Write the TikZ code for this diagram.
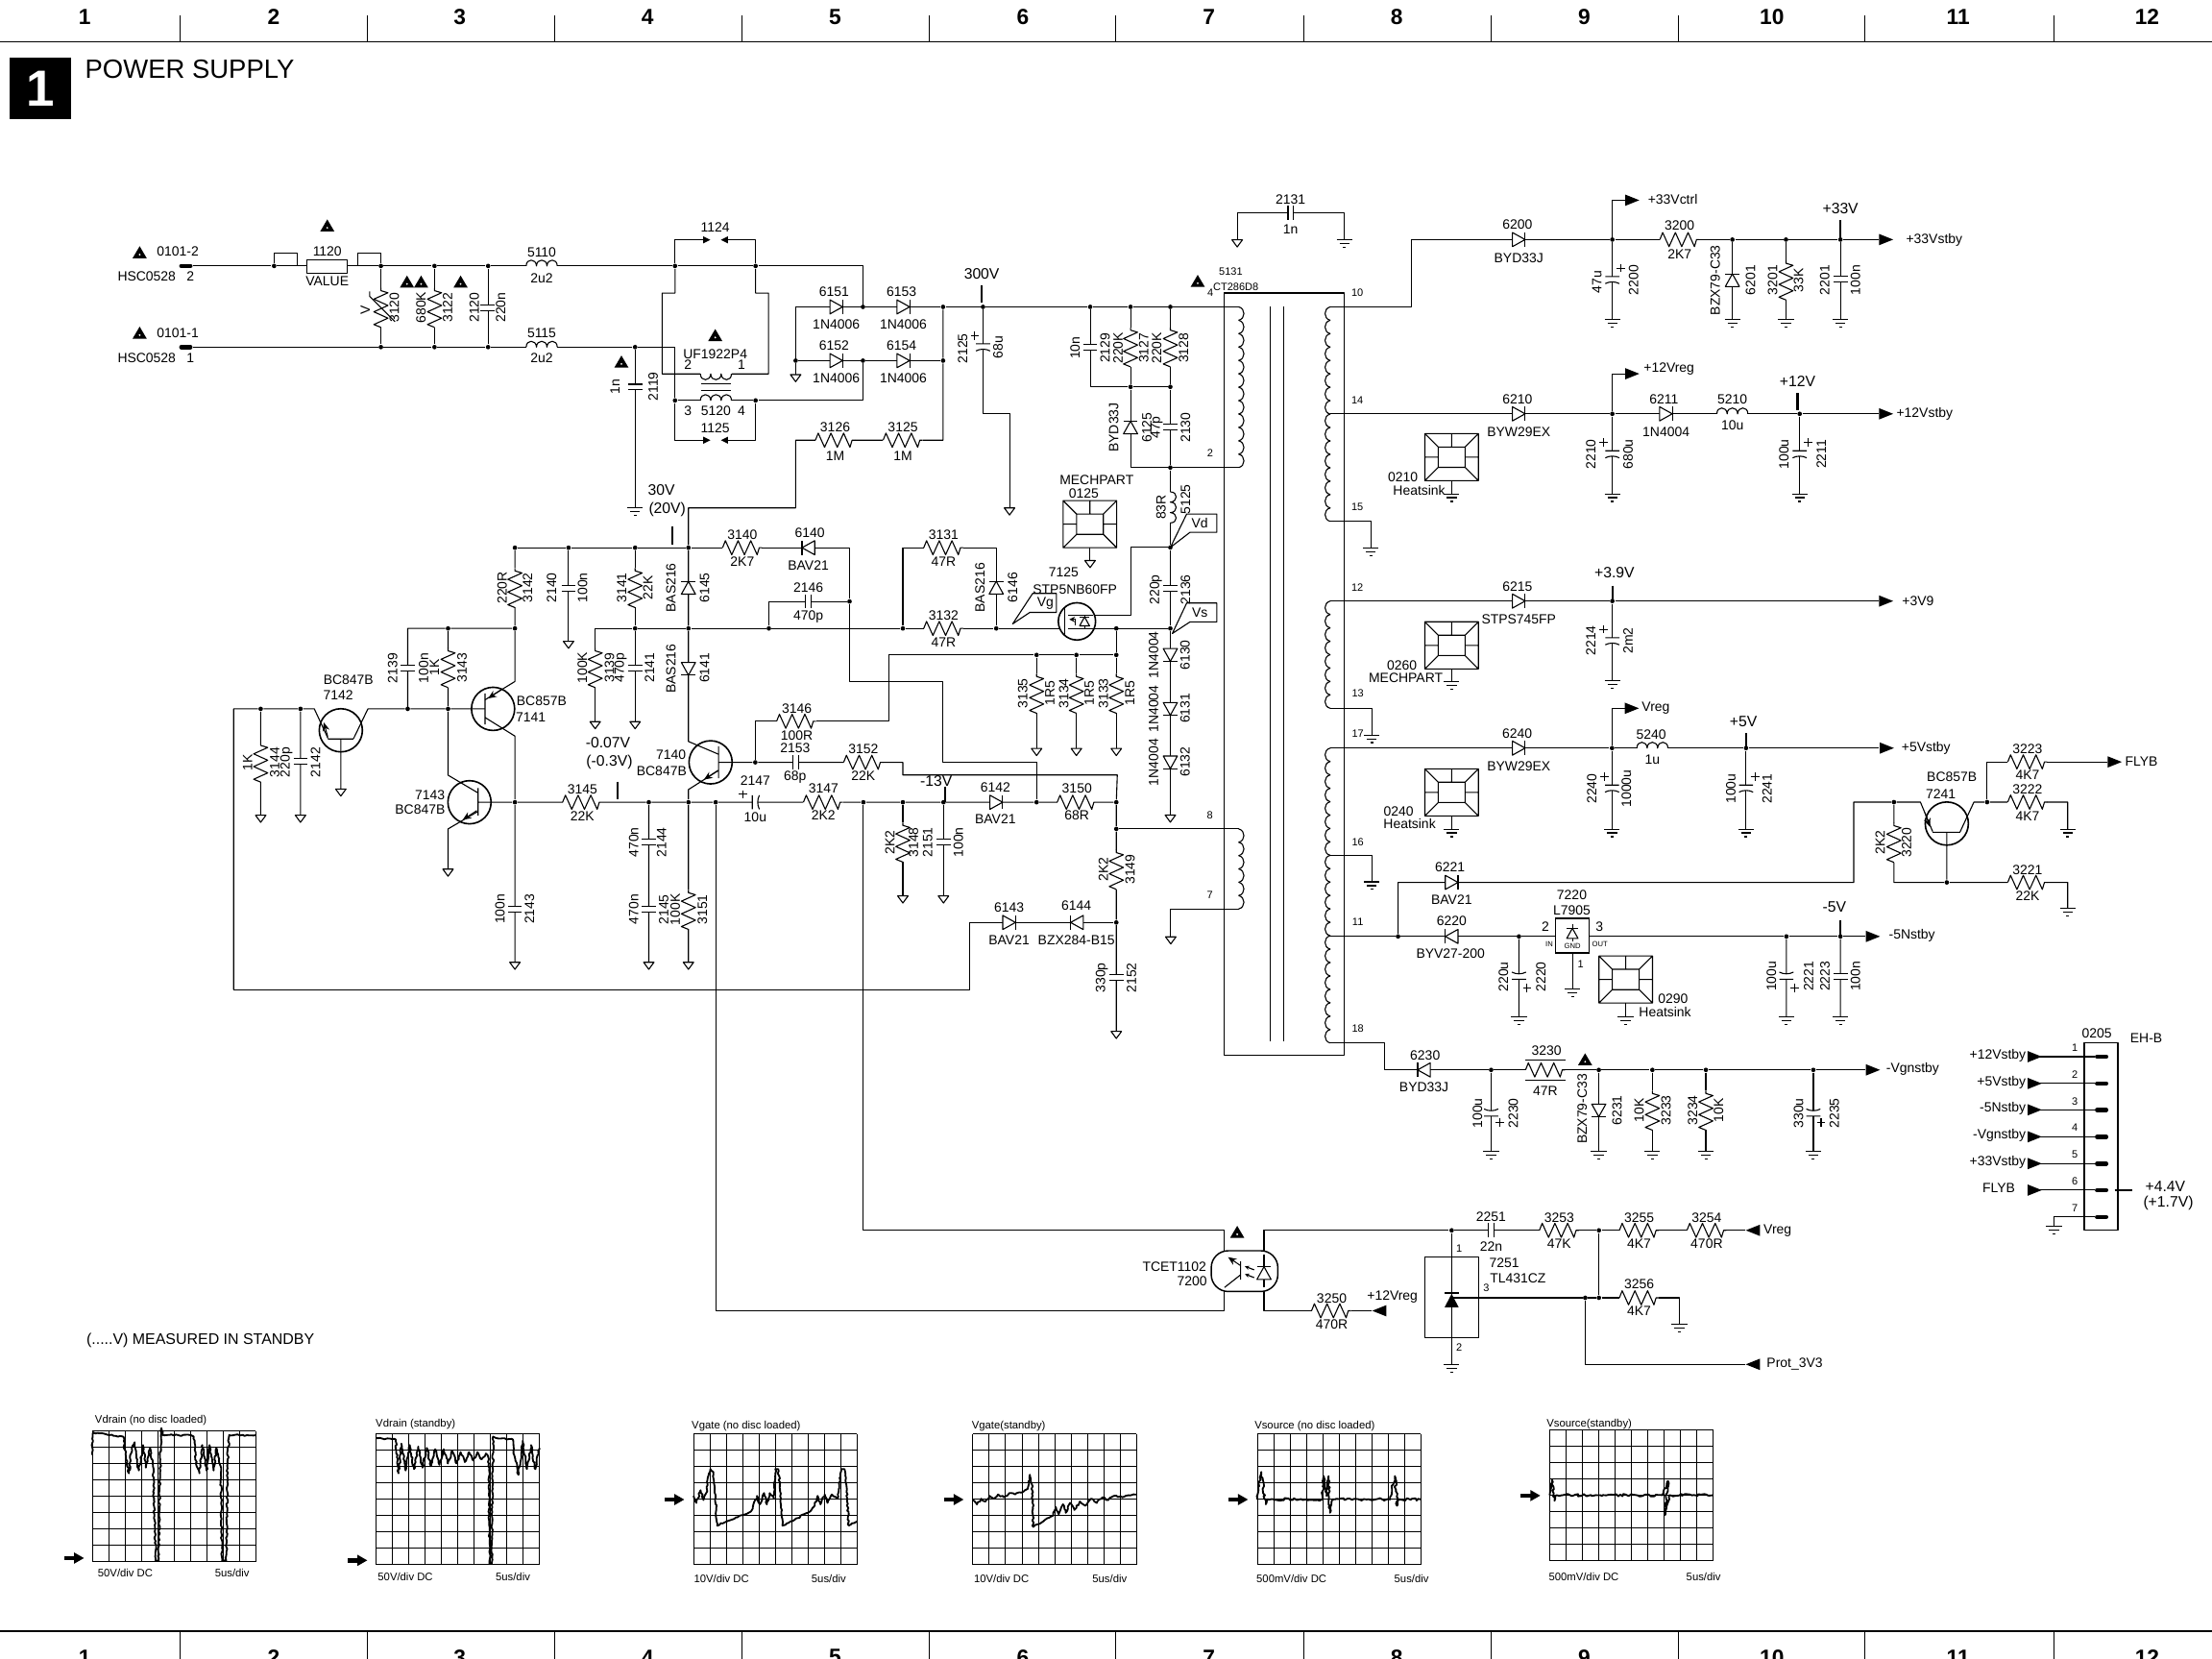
\documentclass[tikz,border=0pt]{standalone}
\usepackage{fontspec}
\setmainfont{Liberation Sans}
\usetikzlibrary{arrows.meta,calc,decorations.pathmorphing}
\tikzset{
	jd/.style={circle,fill=black,inner sep=0pt,minimum size=3.2pt},
	lbl/.style={inner sep=0pt},
	vlbl/.style={inner sep=0pt,rotate=90},
	big/.style={inner sep=0pt,font=\fontsize{10.7}{12}\selectfont},
	tinyl/.style={inner sep=0pt,font=\fontsize{7.5}{9}\selectfont},
	outl/.style={inner sep=0pt,anchor=west},
	scl/.style={inner sep=0pt,anchor=west,font=\fontsize{7.7}{9}\selectfont},
	hdr/.style={inner sep=0pt,font=\fontsize{15.5}{17}\selectfont\bfseries},
	tick/.style={line width=1.4pt},
	stub/.style={line width=3pt,line cap=round},
	qcirc/.style={circle,draw,line width=1.1pt,inner sep=0pt,minimum size=30.6pt},
	emit/.style={-{Stealth[length=6pt,width=5pt]},line width=.7pt},
	trace/.style={line width=1.25pt,decorate,decoration={random steps,segment length=1.6pt,amplitude=.6pt}},
	rez/.pic={\fill[white] (-14,-5.5) rectangle (14,5.5);
		\draw (-14,0)--(-12,-5)--(-7.5,5)--(-3,-5)--(1.5,5)--(6,-5)--(10.5,5)--(12,0)--(14,0);},
	capa/.pic={\fill[white] (-2,-5) rectangle (2,5); \draw (-2,-5)--(-2,5) (2,-5)--(2,5);},
	pcapa/.pic={\fill[white] (-2,-5) rectangle (2,5);
		\draw (-2,-5)--(-2,5) (3,-5) .. controls (1.4,-2) and (1.4,2) .. (3,5);},
	dioda/.pic={\draw[fill=white] (-4.5,-5)--(4.5,0)--(-4.5,5)--cycle; \draw (4.5,-5)--(4.5,5);},
	coilb/.pic={\fill[white] (-11,-6) rectangle (11,.5);
		\draw (-11,0) .. controls (-11,-5.5) and (-4,-5.5) .. (-3.7,0)
		.. controls (-3.7,-5.5) and (3.7,-5.5) .. (3.7,0)
		.. controls (4,-5.5) and (11,-5.5) .. (11,0);},
	gndb/.pic={\draw (-5.5,0)--(5.5,0) (-3.5,2.7)--(3.5,2.7) (-1,5.4)--(1,5.4);},
	trib/.pic={\draw[fill=white] (-3.7,0)--(3.7,0)--(0,5)--cycle;},
	headb/.pic={\fill (-5,-4)--(5,0)--(-5,4)--cycle;},
	heads/.pic={\fill (-2.5,-2.5)--(2.5,0)--(-2.5,2.5)--cycle;},
	warnb/.pic={\fill (0,-4.5)--(5,4)--(-5,4)--cycle; \fill[white] (0,1.5) circle[radius=.7pt];},
	plusb/.pic={\draw (-3,0)--(3,0) (0,-3)--(0,3);},
	sarr/.pic={\fill (-7,-1.5) rectangle (1,1.5); \fill (0,-4)--(7,0)--(0,4)--cycle;},
	hsink/.pic={\draw (-19,-16.7) rectangle (19,16.7) (-9.5,-7.2) rectangle (9.5,7.2)
		(-19,-16.7)--(-9.5,-7.2) (19,-16.7)--(9.5,-7.2) (-19,16.7)--(-9.5,7.2) (19,16.7)--(9.5,7.2)
		(0,-16.7)--(0,-7.2) (-19,0)--(-9.5,0) (19,0)--(9.5,0);},
}
\newcommand\place[3][]{\foreach \x/\y in {#3} {\pic[#1] at (\x,\y) {#2};}}
\newcommand\windr[4]{\foreach \n in {1,...,#3} \draw ({#1},{#2+(\n-1)*#4}) .. controls ({#1+5},{#2+(\n-1)*#4+1}) and ({#1+5},{#2+\n*#4-1}) .. ({#1},{#2+\n*#4});}
\newcommand\windl[4]{\foreach \n in {1,...,#3} \draw ({#1},{#2+(\n-1)*#4}) .. controls ({#1-5},{#2+(\n-1)*#4+1}) and ({#1-5},{#2+\n*#4-1}) .. ({#1},{#2+\n*#4});}
\newcommand\scopegrid[2]{\foreach \i in {0,...,10} \draw[line width=.45pt] ({#1+\i*11.6},#2) -- ++(0,92.6);
	\foreach \i in {0,...,8} \draw[line width=.6pt] (#1,{#2+\i*11.575}) -- ++(116,0);}
\begin{document}
\begin{tikzpicture}[x=1pt,y=-1pt,font=\fontsize{9.5}{11}\selectfont,line join=round,line width=.75pt,>=stealth]
	\useasboundingbox (0,0) rectangle (1568,1175.8);
	% page frame
	\draw[line width=.9pt] (0,29.5)--(1568,29.5) (0,1156)--(1568,1156);
	\foreach \x in {127.6,260.6,393,526,659,791,924,1057,1190,1322,1456} \draw (\x,11)--(\x,29.5) (\x,1156)--(\x,1176);
	\foreach \x/\n in {60/1,194/2,326/3,459/4,592/5,725/6,857/7,990/8,1123/9,1256/10,1388/11,1522/12} {
		\node[hdr] (top\n) at (\x,12) {\n};
		\node[hdr] (bot\n) at (\x,1174.6) {\n};
	}
	\node[fill=black,text=white,minimum size=43.2pt,inner sep=0pt,font=\fontsize{36}{38}\selectfont\bfseries] (sheet) at (28.5,62.7) {1};
	\node[outl,font=\fontsize{18.7}{21}\selectfont] (title) at (60,49) {POWER SUPPLY};
	% junctions
	\foreach \n/\x/\y in {fa/194.3/188.5,fb/270/188.5,rb/308/188.5,cb/346/188.5,ta/478.5/188.5,tb/535.6/188.5,
		fc/270/246,rc/308/246,cc/346/246,tc/450.2/246,ld/478.5/283.8,le/535.6/283.8,
		br1/611.7/217.5,br2/668.5/217.5,vh/696.8/217.5,rj/772.8/217.5,rk/801.4/217.5,rl/829.6/217.5,
		br3/564/255.6,br4/611.7/255.6,br5/668.5/255.6,jk/801.4/274.2,jl/829.6/274.2,jm/829.6/331.4,vd/829.6/388,vs/829.6/445.4,
		a1/365/388.2,a2/403/388.2,a3/450.2/388.2,a4/488/388.2,
		b1/317.6/445.4,b2/365/445.4,b3/450.2/445.4,b4/488/445.4,b5/545/445.4,b6/640/445.4,b7/706.2/445.4,b8/791.3/445.4,
		c1/602.2/426.3,d1/184.8/502.4,d2/213/502.4,d3/289/502.4,d4/317.6/502.4,
		e1/734.8/464.2,e2/763/464.2,e3/791.3/464.2,f1/535.4/540.3,
		g1/365/568.6,g2/459.9/568.6,g3/488/568.6,g4/507.3/568.6,g5/612/568.6,g6/640/568.6,g7/668.8/568.6,g8/734.8/568.6,g9/791.3/568.6,
		h1/791.3/587.5,h2/791.3/653.8,
		o1/1142.9/169.8,o2/1228/169.8,o3/1266/169.8,o4/1304.6/169.8,p1/1142.9/293.3,p2/1275.7/293.3,
		q1/1142.9/426,u1/1142.7/530.2,u2/1237.7/530.2,w1/991/663.7,w2/1076.7/663.7,w3/1266.3/663.7,w4/1304.6/663.7,
		v1/1342.5/568.5,v2/1408.6/568.5,v3/1380/625.4,
		x1/1057/758.3,x2/1133.3/758.3,x3/1171.3/758.3,x4/1209.2/758.3,x5/1285.4/758.3,
		y1/1029/872,y2/1133.4/872,y3/1123.7/919.8,y4/1133.4/919.8}
		\node[jd] (\n) at (\x,\y) {};
	% wires
	\foreach \n/\x/\y in {cn2/137/188.5,cn1/137/246,hs1/772.7/397.3,pn1/1485/748.9,pn2/1485/767.9,pn3/1485/786.6,pn4/1485/805.7,pn5/1485/824.7,pn6/1485/843.5,pn7/1485/862.5}
		\coordinate (\n) at (\x,\y);
	\draw (cn2)--(fa)--(fb)--(rb)--(cb)--(ta)--(tb)--(611.7,188.5)--(br1);
	\draw (cn1)--(fc)--(rc)--(cc)--(tc)--(478.5,246)--(ld)--(le) (fb)--(fc) (rb)--(rc) (cb)--(cc) (tc)--(450.2,360);
	\draw (fa)--++(0,-9.2)--++(16.4,0)--++(0,9.2) (fb)--++(0,-9.2)--++(-16.5,0)--++(0,9.2);
	\draw (ta)--++(0,-18.5)--(501,170) (tb)--++(0,-18.5)--(513.5,170) (ld)|-(501,312) (le)|-(513.5,312) (le)-|(br4);
	\draw (ta)--++(0,19.2)--++(-9.1,0)--++(0,57.3)--++(75.4,0)--++(0,-57.3)--++(-9.2,0)--(tb);
	\draw (br3)--(564,217.5)--(br1)--(br2)--(vh)--(rj)--(rk)--(rl)--(878,217.5) (br3)--++(0,10) (br3)--(br4)--(br5);
	\draw (br2)--(br5)--(668.5,312)--(564,312)--(564,360)--(488,360)--(a4)--(b4)--(488,525.5)--(509.4,534.6);
	\draw (vh)--(696.8,292.8)--(715.6,292.8)--(715.6,360);
	\draw (rj)--(772.8,274.2)--(jk)--(jl) (rk)--(jk)--(801.4,331.4)--(jm)--(878,331.4) (rl)--(jl)--(jm)--(vd)--(vs)--(829.6,577.7);
	\draw (vd)--(801.4,388)--(801.4,435.8)--(775,435.8);
	\draw (a1)--(a2)--(a3)--(a4)--(602.2,388.2)--(c1)--(602.2,483)--(668.2,483)--(668.2,540.3)--(734.8,540.3)--(g8);
	\draw (b5)--(b4)--(b3)--(421.9,445.4)--(421.9,511.5) (a3)--(b3)--(450.2,511.5) (a2)--(403,454.5);
	\draw (c1)--(545,426.3)--(b5)--(b6)--(b7)--(706.2,445.4) (b6)--(640,388.2)--(706.2,388.2)--(b7);
	\draw (289,502.4)--(289,445.4)--(b1)--(b2) (a1)--(b2)--(365,483)--(343.8,496);
	\draw (165.6,701.5)--(165.6,502.4)--(d1)--(d2)--(222.8,502.4)--(232.5,523.3) (d1)--(184.8,577.8) (d2)--(213,577.8);
	\draw (232.5,523.7)--(250.7,523.7) (250.7,523.3)--(260.8,502.4)--(d3)--(d4)--(343.8,502.4) (241.6,523.7)--(241.6,559.2);
	\draw (343.8,491.5)--(343.8,513.5) (343.8,508.5)--(365,521.7)--(g1)--(365,682) (b1)--(d4)--(317.6,549.4)--(338.9,562);
	\draw (338.9,558.5)--(338.9,578) (338.9,575)--(317.6,587.5)--(317.6,616) (338.9,568.6)--(g1)--(g2)--(g3)--(g4)--(g5)--(g6)--(g7)--(g8)--(g9);
	\draw (g2)--(459.9,682) (509.4,529)--(509.4,551.6) (509.4,546)--(488,559.6)--(g3)--(488,682) (509.4,540.3)--(f1)--(612,540.3)--(640,540.3)--(640,549.3)--(792,549.3)--(g9)--(h1)--(h2)--(791.3,731);
	\draw (f1)--(535.4,511.2)--(630.2,511.2)--(630.2,464.2)--(e1)--(e2)--(e3) (e3)--(b8) (e1)--(734.8,530.5) (e2)--(763,530.5) (e3)--(791.3,530.5);
	\draw (g6)--(640,635) (g7)--(668.8,635);
	\draw (h2)--(687.4,653.8)--(687.4,701.5)--(165.6,701.5);
	\draw (h1)--(878,587.5) (878,644.2)--(829.9,644.2)--(829.9,664);
	\draw (g4)--(507.3,929)--(868,929)--(868,912) (g5)--(612,872)--(868,872)--(868,889);
	\draw (877,170)--(877,151)--(953,151)--(953,169.8);
	\draw[line width=.8pt] (868,207.7) rectangle (953,748);
	\draw (900.5,217.5)--(900.5,738) (910.2,217.5)--(910.2,738);
	% secondary side
	\draw (943,217.5)--(1000.6,217.5)--(1000.6,169.8)--(o1)--(o2)--(o3)--(o4)--(1332,169.8);
	\draw (o1)|-(1152,141.9) (o1)--(1142.9,226.5) (o2)--(1228,226.5) (o3)--(1266,226.5) (o4)--(1304.6,226.5);
	\draw (943,293.3)--(p1)--(p2)--(1332,293.3) (p1)|-(1152,264.9) (p1)--(1142.9,350) (p2)--(1275.7,350);
	\draw (943,369.4)--(971.7,369.4)--(971.7,388.2) (943,426)--(q1)--(1332,426) (q1)--(1142.9,482.5);
	\draw (943,502)--(972.3,502)--(972.3,520.9) (943,530.2)--(u1)--(u2)--(1332,530.2) (u1)|-(1152,502) (u1)--(1142.7,587.6) (u2)--(1237.7,587.6);
	\draw (943,606.3)--(972.3,606.3)--(972.3,625) (943,663.7)--(w1)--(w2)--(w3)--(w4)--(1322,663.7);
	\draw (w1)--(991,625.4)--(1314,625.4)--(1314,568.5)--(v1)--(1361.3,568.5)--(1370,589.4) (w2)--(1076.7,720.5) (w3)--(1266.3,720.5) (w4)--(1304.6,720.5);
	\draw (1370,589.9)--(1389.5,589.9) (1389.5,589.4)--(1399.2,568.5)--(v2)--(1465.7,568.5)--(1465.7,587.6) (1380,589.9)--(v3) (v1)--(1342.5,625.4)--(v3)--(1465.7,625.4)--(1465.7,644);
	\draw (v2)--(1408.6,540)--(1494,540) (1114.6,675)--(1114.6,701);
	\draw (943,739.2)--(981.6,739.2)--(981.6,758.3)--(x1)--(x2)--(x3)--(x4)--(x5)--(1322,758.3);
	\foreach \n/\x in {x1/1057,x2/1133.3,x3/1171.3,x4/1209.2,x5/1285.4} \draw (\n)--(\x,816);
	\draw (1081.4,751)--(1110,751) (1081.4,765.3)--(1110,765.3);
	\draw (896,889)--(896,872)--(y1)--(y2)--(1237,872) (y1)--(1029,967) (896,912)--(896,929)--(972,929);
	\draw (1029,919.8)--(y3)--(y4)--(1190.4,919.8)--(1190.4,938.6) (y2)--(y4) (y3)--(1123.7,967)--(1237,967);
	\draw (1446,748.9)--(pn1) (1446,767.9)--(pn2) (1446,786.6)--(pn3) (1446,805.7)--(pn4) (1446,824.7)--(pn5) (1446,843.5)--(pn6) (pn7)-|(1456,869);
	% windings
	\windr{878}{217.5}{12}{9.49}
	\windr{878}{587.5}{6}{9.45}
	\windl{943}{217.5}{16}{9.5}
	\windl{943}{426}{8}{9.5}
	\windl{943}{530.2}{22}{9.5}
	% parts
	\place{rez}{592/312,640/312,526.2/388.2,668.8/388.2,668.8/445.4,564.5/511.2,612/540.3,412.8/568.6,583.5/568.6,763.4/568.6,1190.6/169.8,1437.2/540,1437.2/568.5,1437.2/625.4,1095.4/758.3,1105.2/872,1161.9/872,1209.8/872,1161.9/919.8,943.7/929}
	\place[rotate=90]{rez}{270/218,308/218,801.4/246,829.6/246,365/416.6,450.2/416.6,317.6/473.3,421.9/473.3,184.8/540.3,734.8/491.5,763/491.5,791.3/491.5,640/597,791.3/616.3,488/644.7,1266/198.6,1342.5/597.2,1171.3/787,1209.2/787}
	\place[rotate=90]{capa}{345.7/218,450.2/274.3,772.8/246,829.6/302.7,829.6/416.8,403/416.8,450.2/473.5,289/473.6,213/539.5,365/644.4,459.9/597,459.9/644.4,668.8/597,791.3/693,1304.6/198,1304.6/692}
	\place{capa}{915/151,573/426.3,564/540.3,1057/872}
	\place[rotate=-90]{pcapa}{696.8/245.7,1142.9/198,1142.9/321.5,1275.7/321.5,1142.9/454,1142.7/558.4,1237.7/558.4}
	\place[rotate=90]{pcapa}{1076.7/692,1266.3/692,1057/789,1285.4/789}
	\place{pcapa}{535.3/568.6}
	\place{plusb}{691/237.7,1149/190,1136.8/313.7,1281.8/313.7,1136.8/446,1137.3/550.3,1244/550.3,1082.5/700,1272.2/700,1063/795.3,1290.9/795.3,526.8/563}
	\place{dioda}{592.8/217.5,640.3/217.5,592.8/255.6,640.3/255.6,706.2/568.6,715.3/653.8,1076.6/169.8,1076.6/293.3,1180.9/293.3,1076.6/426,1076.6/530.2,1029/625.4}
	\place[rotate=180]{dioda}{573/388.2,763.4/653.8,1029/663.7,1009.4/758.3}
	\place[rotate=90]{dioda}{801.4/303,488/416.6,706.2/416.5,1228/198.6}
	\place[rotate=-90]{dioda}{488/474,829.6/464.2,829.6/502.4,829.6/540.3,1133.3/787}
	\place{coilb}{384/188.5,384/246,1228/293.3,1171.3/530.2}
	\place[rotate=-90]{coilb}{829.6/359.6}
	\place[rotate=180]{coilb}{507.5/265}
	\place{coilb}{507.5/283.8}
	\draw (497,272)--(518,272) (497,277)--(518,277);
	\place{gndb}{450.2/360,953/169.8,971.7/388.2,1142.9/226.5,1228/226.5,1266/226.5,1304.6/226.5,1029/350,1142.9/350,1275.7/350,1142.9/482.5,1029/483.3,972.3/520.9,1142.7/587.6,1237.7/587.6,1029/587.6,972.3/625,1465.7/587.6,1465.7/644,1114.6/701,1076.7/720.5,1152.3/720.5,1266.3/720.5,1304.6/720.5,1057/816,1133.3/816,1171.3/816,1209.2/816,1285.4/816,1029/967,1190.4/938.6,1456/869}
	\place{trib}{877/170,564/265.5,715.6/360,772.7/397.3,403/454.5,421.9/511.5,450.2/511.5,184.8/577.8,213/577.8,241.6/559.2,317.6/616,365/682,459.9/682,488/682,734.8/530.5,763/530.5,791.3/530.5,829.6/577.7,640/635,668.8/635,829.9/664,791.3/731}
	\place{headb}{1157/141.9,1337/169.8,1157/264.9,1337/293.3,1337/426,1156.8/502,1337.5/530.2,1499/540,1327.7/663.7,1327.7/758.3,1442.3/748.9,1442.3/767.9,1442.3/786.6,1442.3/805.7,1442.3/824.7,1442.3/843.5}
	\place[rotate=180]{headb}{1242.5/872,977.7/929,1242.5/967}
	\place{heads}{501/170,501/312}
	\place[rotate=180]{heads}{513.5/170,513.5/312}
	\place{warnb}{99/179,99/236,232/160,288.5/199.8,298.5/199.8,326.5/199.8,440.5/256.5,507/237.7,849/199.3,877/873.3,1123.6/751}
	\place{hsink}{772.6/371.5,1029/324,1029/457.4,1029/561.6,1152.4/694.2}
	\draw (772.7,388.2)--(hs1) (1029,340.7)--(1029,350) (1029,474.1)--(1029,483.3) (1029,578.3)--(1029,587.6) (1152.4,710.9)--(1152.4,720.5);
	% fuse, plugs, varistor
	\node[draw,fill=white,minimum width=28.8pt,minimum height=10pt,inner sep=0pt] (f1120) at (232,189) {};
	\draw[stub] (128.5,188.5)--(135,188.5) (128.5,246)--(135,246);
	\draw (262,206.6)--(262,210)--(280,228);
	% transistors
	\node[qcirc] (q7142) at (241.6,517.6) {};
	\node[qcirc] (q7141) at (349.5,502.4) {};
	\node[qcirc] (q7143) at (332.8,568.6) {};
	\node[qcirc] (q7140) at (503.7,540.3) {};
	\node[qcirc] (q7241) at (1380,583.7) {};
	\draw[emit] (232.3,522)--(229.5,512);
	\draw[emit] (355,489)--(346,495);
	\draw[emit] (338,574.5)--(328,581);
	\draw[emit] (509,546)--(499,552.5);
	\draw[emit] (1364.5,576)--(1368,586);
	\draw (b7)--(791.3,445.4)--(vs);
	\node[circle,draw,fill=white,line width=1.1pt,inner sep=0pt,minimum size=26.4pt] (q7125) at (763.4,440.4) {};
	\draw (775,435.8)--(757,435.8) (755,430)--(755,450) (757,445.4)--(776.5,445.4) (768.8,435.8)--(768.8,445.4);
	\pic[rotate=90,scale=.7] at (768.8,440.4) {dioda};
	\draw[->] (762,443)--(762,439)--(758,439);
	% optocoupler, regulators
	\node[draw,fill=white,line width=1pt,rounded corners=12pt,minimum width=47.2pt,minimum height=28.9pt,inner sep=0pt] (q7200) at (882.2,900.9) {};
	\draw (879.4,894)--(879.4,906.9) (879.4,903.5)--(868,912.5);
	\draw[emit] (879.4,897)--(870.5,891);
	\draw (896,889)--(896,912);
	\pic[rotate=90] at (896,902.3) {dioda};
	\draw[-{Stealth[length=3pt,width=3pt]},line width=.8pt] (889,900)--(882.5,897.5);
	\draw[-{Stealth[length=3pt,width=3pt]},line width=.8pt] (889,905.5)--(882.5,903);
	\node[draw,line width=.9pt,minimum width=38pt,minimum height=57pt,inner sep=0pt] (q7251) at (1029,919.5) {};
	\fill (1024,926.6)--(1034,926.6)--(1029,917)--cycle;
	\draw[line width=1.4pt] (1024,916.4)--(1034,916.4);
	\node[draw,fill=white,minimum width=24.2pt,minimum height=24.4pt,inner sep=0pt] (q7220) at (1114.6,663.2) {};
	\draw[line width=1.4pt] (1102.5,651)--(1126.7,651) (1102.5,675.4)--(1126.7,675.4);
	\draw (1114.6,655)--(1114.6,667);
	\pic[rotate=90,scale=.8] at (1114.6,661.5) {dioda};
	% connector
	\draw[line width=.9pt] (1477.4,739.2) rectangle (1501.3,872);
	\foreach \n in {1,...,7} \draw[stub] ($(pn\n)+(1.5,0)$)--++(6.5,0);
	\draw[tick] (1499,843.5)--(1511.4,843.5);
	% callouts
	\draw[fill=white] (829.6,388)--(841.2,364.3)--(862.5,364.3)--(862.5,377.3)--(843.5,377.3)--cycle;
	\draw[fill=white] (831,449)--(841.2,427.4)--(862.5,427.4)--(862.5,440.8)--(843.5,440.8)--cycle;
	\draw[fill=white] (717.8,442.2)--(732,420.6)--(748.8,420.6)--(748.8,434)--(730,434)--cycle;
	% ticks
	\draw[tick] (696,202)--(696,214.5) (476.5,373.4)--(476.5,386) (437.7,554)--(437.7,566.4) (669.7,557.3)--(669.7,568.6);
	\draw[tick] (1304.6,156)--(1304.6,170) (1274.2,278.8)--(1274.2,291) (1142.9,415)--(1142.9,426) (1237.7,519.8)--(1237.7,530.2) (1304.6,652)--(1304.6,663.7);
	% labels
	\foreach \x/\y/\txt in {126/178/0101-2,104/196/HSC0528,135/196/2,126/236/0101-1,104/254/HSC0528,135/254/1,
		232/178/1120,232/199/VALUE,384/179/5110,384/197/2u2,384/236/5115,384/254/2u2,507/161/1124,507/250.8/UF1922P4,
		487.6/258.8/2,525.6/258.8/1,487.6/291.2/3,507.5/291.2/5120,525.6/291.2/4,507/303.5/1125,
		591.3/206.6/6151,592.8/229.7/1N4006,639/206.6/6153,640.3/229.7/1N4006,591.3/244.7/6152,592.8/267.9/1N4006,639/244.7/6154,640.3/267.9/1N4006,
		592/303/3126,592/323/1M,640/303/3125,640/323/1M,526.2/379/3140,526.2/398/2K7,574/377.5/6140,573/400.7/BAV21,
		573/416.5/2146,573/437.4/470p,668.8/379/3131,668.8/398/47R,668.8/436.3/3132,668.8/455/47R,
		777.4/340.5/MECHPART,768.2/349.6/0125,754/405.9/7125,762/417.7/STP5NB60FP,741/428/Vg,850.5/371/Vd,850.5/434/Vs,
		247/481.7/BC847B,239.8/493/7142,383.9/496.7/BC857B,376.3/508.5/7141,304.8/563.5/7143,297.8/573.7/BC847B,475.7/534.6/7140,469/546.4/BC847B,
		412.8/559.6/3145,412.8/578.4/22K,564.8/502/3146,564.8/521/100R,563.6/530/2153,563.6/551/68p,612/530.7/3152,612/549.8/22K,
		535.4/553.2/2147,535.4/579.3/10u,583.7/559/3147,583.7/578/2K2,705.6/558/6142,705.6/580.7/BAV21,763.4/559/3150,763.4/578/68R,
		715.3/643/6143,715.3/666.3/BAV21,763/641.7/6144,763/666.3/BZX284-B15,914.8/141.4/2131,914.8/162.3/1n,
		1075.7/159/6200,1076.6/182.7/BYD33J,1190.6/160/3200,1190.6/180.5/2K7,1075.7/283/6210,1076.6/306/BYW29EX,1179.4/283/6211,1181/306/1N4004,
		1228/283/5210,1228/301.5/10u,1075.7/415.8/6215,1076.6/438.8/STPS745FP,994.5/338.2/0210,1006/347.8/Heatsink,993.8/471.6/0260,996.5/480.7/MECHPART,
		1075.5/519.8/6240,1076.6/543/BYW29EX,1170.5/520.9/5240,1171.3/538.6/1u,991.4/575/0240,999.2/583.7/Heatsink,
		1383.6/550.8/BC857B,1375.8/562.5/7241,1437.2/530.8/3223,1437.2/549.5/4K7,1437.2/559.4/3222,1437.2/578.2/4K7,1437.2/616.8/3221,1437.2/635/22K,
		1027.8/614.7/6221,1029/637.6/BAV21,1029/652.5/6220,1028.2/675.9/BYV27-200,1114.2/634.2/7220,1114.2/645.4/L7905,1095.4/656.6/2,1133.7/656.6/3,
		1186/708/0290,1180.3/717.6/Heatsink,1010.2/747.8/6230,1009.4/770.5/BYD33J,1096.2/744.4/3230,1095.4/773/47R,
		1057/862.6/2251,1057/883.7/22n,1105.2/863.3/3253,1105.2/881.7/47K,1161.9/863.3/3255,1161.9/881.7/4K7,1209.8/863.3/3254,1209.8/881.7/470R,
		1161.9/910.3/3256,1161.9/929/4K7,944/920.5/3250,944/938.6/470R,987/919.4/+12Vreg,832.5/897.8/TCET1102,845/908/7200,1066.3/895/7251,1076/906.2/TL431CZ,
		1486.4/732.7/0205,1521.4/736/EH-B,1416.8/842/FLYB}
		\node[lbl] (l\x-\y) at (\x,\y) {\txt};
	\foreach \x/\y/\txt in {259/220/V,279.5/218/3120,298.5/218/680K,317.4/218/3122,336.2/218/2120,355/218/220n,436/274/1n,463/274/2119,
		682.5/247/2125,707.4/246.3/68u,762/246.7/10n,783.4/246.7/2129,792.6/246.7/220K,810.8/246.7/3127,820/246.7/220K,839/246.7/3128,
		789.5/303/BYD33J,812.9/303/6125,820/303/47p,840.3/303/2130,823/359.6/83R,840.3/354/5125,819.3/418/220p,840.3/418/2136,
		356/416.6/220R,374/416.6/3142,391/416.6/2140,413/416.6/100n,440.7/416.6/3141,459.3/416.6/22K,475.7/416.6/BAS216,499.4/416.6/6145,
		694.6/416.5/BAS216,717.8/416.5/6146,278.4/473.6/2139,300.3/473.6/100n,308/473.3/1K,327.6/473.3/3143,412.8/473.3/100K,432/473.3/3139,440/473.3/470p,460.5/473.3/2141,
		475.7/474/BAS216,499.4/473.5/6141,725/491.5/3135,744.2/491.5/1R5,754/491.5/3134,772.2/491.5/1R5,782.2/491.5/3133,801/491.5/1R5,
		817.8/464.2/1N4004,840/464.2/6130,817.8/502.4/1N4004,840/502/6131,817.8/540.3/1N4004,840/540/6132,
		175.6/540.3/1K,194.8/540.3/3144,203/540.3/220p,223.7/540.3/2142,354.4/644.3/100n,375.4/644.3/2143,449.2/597/470n,469/597/2144,449.2/644.5/470n,470.5/644.7/2145,478.7/644.7/100K,497.9/644.7/3151,
		630.8/597/2K2,647.5/597/3148,657.6/597/2151,679.4/597/100n,782.2/616.3/2K2,801/616.3/3149,781/693/330p,802/693/2152,
		1132/199.8/47u,1158/198.6/2200,1215.8/198.6/BZX79-C33,1240.8/198.6/6201,1256.6/198.6/3201,1275/198.6/33K,1293.4/198.6/2201,1315.2/198.6/100n,
		1127.7/322/2210,1154/322/680u,1264.5/322/100u,1291/322/2211,1127.7/454/2214,1154/454/2m2,1128.3/559/2240,1152.9/559/1000u,1227/559/100u,1252.6/559/2241,
		1332.8/597.2/2K2,1351.5/597.2/3220,1065.7/692.3/220u,1092.3/692.3/2220,1255.7/692/100u,1282/692/2221,1293.7/692/2223,1315.2/692/100n,
		1047.3/789/100u,1072.7/789/2230,1121.6/786/BZX79-C33,1146.3/787/6231,1161.9/787/10K,1181/787/3233,1199.8/787/3234,1218.2/787/10K,1274.9/789/330u,1300.3/789/2235}
		\node[vlbl] (r\x-\y) at (\x,\y) {\txt};
	\foreach \x/\y/\txt in {695.9/194/300V,468.8/347.3/30V,473/361/(20V),431/526.2/-0.07V,432/540.3/(-0.3V),663.6/553.4/-13V,1304.6/147.6/+33V,1274.2/270/+12V,1144.4/405.6/+3.9V,1235.8/511.2/+5V,1300.3/642.8/-5V,1534.9/841/+4.4V,1537/853/(+1.7V)}
		\node[big] (v\x-\y) at (\x,\y) {\txt};
	\foreach \x/\y/\txt in {872.5/192.3/5131,876/203.2/CT286D8,858/207.3/4,857.9/321.2/2,857.6/577.7/8,857.6/634.5/7,962.2/207.3/10,962.2/283.8/14,962.2/359.3/15,962.2/416.5/12,962.5/491.7/13,962.5/520.3/17,962.5/596.7/16,962.5/653.2/11,962.5/729.3/18,
		1120.4/683.2/1,1034.4/884.6/1,1034.4/955/2,1053.5/913/3,1470.8/742.6/1,1470.8/761.6/2,1470.8/780.4/3,1470.8/799.4/4,1470.8/818.4/5,1470.8/837.2/6,1470.8/856.2/7}
		\node[tinyl] (t\x-\y) at (\x,\y) {\txt};
	\foreach \x/\y/\txt in {1114.6/670.7/GND,1098.2/668.9/IN,1134.1/668.9/OUT}
		\node[inner sep=0pt,font=\fontsize{5.2}{6}\selectfont] (s\x-\y) at (\x,\y) {\txt};
	\foreach \x/\y/\txt in {1167.8/141.5/+33Vctrl,1350.8/170/+33Vstby,1164.8/261.5/+12Vreg,1344/293.5/+12Vstby,1348/426/+3V9,1163.5/502/Vreg,1347.6/530/+5Vstby,1506/540/FLYB,1338.6/663/-5Nstby,1336.7/758/-Vgnstby,1249.8/872/Vreg,1252/967/Prot\_3V3}
		\node[outl] (o\x-\y) at (\x,\y) {\txt};
	\foreach \y/\txt in {747.9/+12Vstby,766.9/+5Vstby,785.6/-5Nstby,804.7/-Vgnstby,823.7/+33Vstby}
		\node[inner sep=0pt,anchor=east] (c\y) at (1436.4,\y) {\txt};
	\node[outl,font=\fontsize{10.85}{12}\selectfont] (note) at (61,950) {(.....V) MEASURED IN STANDBY};
	% scopes
	\scopegrid{65.4}{1014.2}
	\scopegrid{266.5}{1016.2}
	\scopegrid{491.6}{1016.2}
	\scopegrid{689.5}{1016.2}
	\scopegrid{891.3}{1016.2}
	\scopegrid{1098.4}{1013.7}
	\pgfmathsetseed{7}
	\draw[trace,shift={(65.4,1014.2)}] (0,17)--(.5,1)--(12,3)--(22,4)--(24,20)--(26,30)--(28,12)--(30,8)--(33,28)--(36,10)--(38,26)--(41,12)--(43,25)--(45,92)--(47,92)--(48,30)--(49,-2)--(50,3)--(70,3)--(72,4)--(74,25)--(76,30)--(78,10)--(81,28)--(83,10)--(86,28)--(88,12)--(91,25)--(92,92)--(95,92)--(96,20)--(97,3)--(116,3);
	\draw[trace,shift={(266.5,1016.2)}] (0,3)--(14,4)--(16,28)--(18,7)--(21,26)--(24,8)--(27,25)--(30,9)--(33,24)--(36,10)--(39,23)--(42,11)--(45,22)--(48,11)--(51,21)--(54,12)--(57,21)--(60,13)--(63,20)--(66,13)--(69,19)--(72,13)--(75,18)--(78,14)--(80,18)--(80.5,92)--(82,92)--(83,2)--(85,3)--(97,4)--(98,15)--(101,29)--(104,5)--(107,25)--(110,8)--(113,25)--(116,10);
	\draw[trace,shift={(491.6,1016.2)}] (0,44)--(2,49)--(5,40)--(7,47)--(9,42)--(11,28)--(12,25)--(14,27)--(15,40)--(16.7,65)--(39,56)--(42,53)--(45,44)--(47,50)--(50,42)--(52,50)--(54,42)--(57,46)--(58,25)--(60,25)--(62,46)--(63,65)--(81,56)--(85,52)--(88,44)--(90,50)--(93,43)--(95,49)--(98,43)--(102,46)--(105,25)--(107,25)--(109,46)--(110,65)--(116,62);
	\draw[trace,shift={(689.5,1016.2)}] (0,47)--(3,50)--(6,46)--(9,48)--(12,44)--(15,46)--(18,43)--(22,45)--(26,42)--(30,43)--(36,41)--(39,39)--(40.5,29)--(42,36)--(43,66)--(57,58)--(59,52)--(61,57)--(64,50)--(66,56)--(69,49)--(72,54)--(76,48)--(80,51)--(84,46)--(88,49)--(92,45)--(96,47)--(100,44)--(106,45)--(116,43);
	\draw[trace,decoration={amplitude=.9pt},shift={(891.3,1016.2)}] (0,46.5)--(2.8,27)--(5,46)--(6,50)--(7,46.5)--(46,46.5)--(47,30)--(49,44)--(50.5,30)--(51.5,56)--(53,46.5)--(94,46.5)--(97.5,30)--(99,51)--(100,46.5)--(116,46.5);
	\draw[trace,decoration={amplitude=.9pt},shift={(1098.4,1013.7)}] (0,46)--(1.8,35)--(3.5,50)--(5,46)--(80,46)--(84,36)--(82,60)--(85,46)--(116,46);
	\foreach \n/\x/\y in {a1/52.5/1104.3,a2/253.3/1105.9,a3/478/1062.8,a4/676/1062.8,a5/877.6/1062.8,a6/1084.8/1060}
		\pic (sc\n) at (\x,\y) {sarr};
	\node[scl] (ta1) at (67,1006.7) {Vdrain (no disc loaded)};
	\node[scl] (ta2) at (266,1009.4) {Vdrain (standby)};
	\node[scl] (ta3) at (490,1010.8) {Vgate (no disc loaded)};
	\node[scl] (ta4) at (688.5,1010.8) {Vgate(standby)};
	\node[scl] (ta5) at (889,1010.8) {Vsource (no disc loaded)};
	\node[scl] (ta6) at (1096,1009.4) {Vsource(standby)};
	\node[scl] (db1) at (69,1115) {50V/div DC};
	\node[scl] (tb1) at (152,1115) {5us/div};
	\node[scl] (db2) at (267.5,1117.5) {50V/div DC};
	\node[scl] (tb2) at (351,1117.5) {5us/div};
	\node[scl] (db3) at (491.6,1119) {10V/div DC};
	\node[scl] (tb3) at (574.9,1119) {5us/div};
	\node[scl] (db4) at (690,1119) {10V/div DC};
	\node[scl] (tb4) at (774,1119) {5us/div};
	\node[scl] (db5) at (890.3,1119) {500mV/div DC};
	\node[scl] (tb5) at (988,1119) {5us/div};
	\node[scl] (db6) at (1097.5,1117.5) {500mV/div DC};
	\node[scl] (tb6) at (1195,1117.5) {5us/div};
\end{tikzpicture}
\end{document}
